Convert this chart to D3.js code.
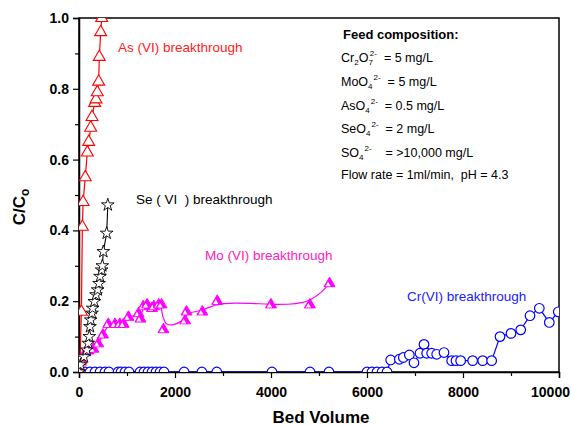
<!DOCTYPE html>
<html><head><meta charset="utf-8">
<script src="https://cdn.jsdelivr.net/npm/d3@7"></script>
<style>body{margin:0;background:#fff}svg{display:block;font-family:"Liberation Sans",Arial,sans-serif}</style>
</head><body><svg id="c" width="571" height="426"></svg>
<script>
// Data: [bed volume, C/Co]
const asData = [[0,0],[20,0.03],[50,0.17],[70,0.41],[85,0.48],[131,0.55],[173,0.62],[202,0.65],[244,0.69],[271,0.72],[327,0.76],[354,0.77],[381,0.79],[410,0.82],[423,0.89],[452,0.96],[473,1.0]];
const seData = [[0,0],[30,0.02],[104,0.043],[160,0.062],[194,0.081],[215,0.1],[229,0.128],[244,0.147],[271,0.166],[285,0.18],[319,0.199],[354,0.218],[389,0.232],[417,0.25],[438,0.27],[472,0.288],[486,0.30],[507,0.34],[577,0.392],[600,0.472]];
const moData = [[20,0.01],[60,0.035],[130,0.055],[200,0.06],[300,0.065],[400,0.08],[500,0.105],[610,0.135],[750,0.135],[850,0.135],[930,0.135],[1030,0.155],[1240,0.165],[1280,0.15],[1340,0.185],[1420,0.19],[1520,0.18],[1560,0.185],[1660,0.19],[1720,0.19],[1760,0.12],[2210,0.145],[2240,0.17],[2570,0.17],[2880,0.2],[4000,0.19],[4810,0.19],[5220,0.25]];
const crData = [[125,0],[229,0],[333,0],[438,0],[542,0],[625,0],[813,0],[875,0],[958,0],[1042,0],[1271,0],[1354,0],[1438,0],[1521,0],[1604,0],[1688,0],[1771,0],[2190,0],[2560,0],[2870,0],[4020,0],[4813,0],[5208,0],[6000,0],[6104,0],[6208,0],[6313,0],[6417,0],
 [6493,0.034],[6674,0.036],[6757,0.041],[6882,0.048],[6979,0.026],[7104,0.053],[7188,0.078],[7243,0.053],[7347,0.053],[7452,0.05],[7604,0.055],[7764,0.032],[7854,0.032],[7951,0.032],[8201,0.032],[8410,0.032],[8597,0.032],[8771,0.1],[9000,0.109],[9202,0.119],[9396,0.159],[9590,0.18],[9798,0.14],[9985,0.17]];
const xTicks = [0,2000,4000,6000,8000,10000];
const yTicks = [0.0,0.2,0.4,0.6,0.8,1.0];
const feedLines = [
 {base:"Cr", sub1:"2", mid:"O", sub:"7", sup:"2-", rest:"  = 5 mg/L"},
 {base:"MoO", sub:"4", sup:"2-", rest:"  = 5 mg/L"},
 {base:"AsO", sub:"4", sup:"2-", rest:"  = 0.5 mg/L"},
 {base:"SeO", sub:"4", sup:"2-", rest:"  = 2 mg/L"},
 {base:"SO", sub:"4", sup:"2-", rest:"    = >10,000 mg/L"}
];

const svg = d3.select("#c");
const L=79,R=559,T=18,B=372;
const x = d3.scaleLinear().domain([0,10000]).range([L,R]);
const y = d3.scaleLinear().domain([0,1]).range([B,T]);

svg.append("defs").append("clipPath").attr("id","clip").append("rect")
 .attr("x",L).attr("y",T).attr("width",R-L).attr("height",B-T);

// frame
svg.append("rect").attr("x",L).attr("y",T).attr("width",R-L).attr("height",B-T)
 .attr("fill","none").attr("stroke","#000").attr("stroke-width",1.5);

// axes
svg.append("g").attr("transform",`translate(0,${B})`)
 .call(d3.axisBottom(x).tickValues(xTicks).tickFormat(d3.format("d")).tickSize(6).tickPadding(9))
 .call(g=>g.selectAll(".tick text").filter(d=>d===10000).attr("dx",-9));
svg.append("g").attr("transform",`translate(0,${B})`)
 .call(d3.axisBottom(x).tickValues(d3.range(1000,10000,2000)).tickFormat("").tickSize(4))
 .call(g=>g.select(".domain").remove());
svg.append("g").attr("transform",`translate(${L},0)`)
 .call(d3.axisLeft(y).tickValues(yTicks).tickFormat(d3.format(".1f")).tickSize(6).tickPadding(4));
svg.append("g").attr("transform",`translate(${L},0)`)
 .call(d3.axisLeft(y).tickValues([0.1,0.3,0.5,0.7,0.9]).tickFormat("").tickSize(4))
 .call(g=>g.select(".domain").remove());
svg.selectAll(".domain").attr("stroke","#000").attr("stroke-width",1.5);
svg.selectAll(".tick line").attr("stroke","#000").attr("stroke-width",1.2);
svg.selectAll(".tick text").attr("font-family","Liberation Sans, Arial, sans-serif")
 .attr("font-size",14).attr("font-weight","bold").attr("fill","#000");

// axis titles
svg.append("text").attr("x",(L+R)/2+2).attr("y",423).attr("text-anchor","middle")
 .attr("font-size",17).attr("font-weight","bold").text("Bed Volume");
const yt = svg.append("text").attr("transform","translate(25,207) rotate(-90)")
 .attr("text-anchor","middle").attr("font-size",17).attr("font-weight","bold");
yt.append("tspan").text("C/C");
yt.append("tspan").attr("font-size",12).attr("dy",4).text("o");

const plot = svg.append("g").attr("clip-path","url(#clip)");
const line = d3.line().x(d=>x(d[0])).y(d=>y(d[1]));

// Cr
plot.append("path").datum(crData).attr("d",line).attr("fill","none").attr("stroke","#0000ff").attr("stroke-width",1.2);
plot.selectAll(".cr").data(crData).join("circle").attr("cx",d=>x(d[0])).attr("cy",d=>y(d[1])).attr("r",4.8)
 .attr("fill","#fff").attr("stroke","#0000ff").attr("stroke-width",1.2);

// Mo
plot.append("path").datum(moData).attr("d",d3.line().curve(d3.curveBasis).x(d=>x(d[0])).y(d=>y(d[1])))
 .attr("fill","none").attr("stroke","#ff00ff").attr("stroke-width",1.2);
const tri = d3.symbol().type(d3.symbolTriangle).size(52)();
const triS = d3.symbol().type(d3.symbolTriangle).size(12)();
const mo = plot.selectAll(".mo").data(moData).join("g").attr("transform",d=>`translate(${x(d[0])},${y(d[1])})`);
mo.append("path").attr("d",tri).attr("fill","#ff00ff").attr("stroke","#ff00ff").attr("stroke-width",1);
mo.append("path").attr("d",triS).attr("transform","translate(-1.5,1.2)").attr("fill","#fff");

// As
plot.append("path").datum(asData).attr("d",line).attr("fill","none").attr("stroke","#ff0000").attr("stroke-width",1.2);
plot.selectAll(".as").data(asData).join("path").attr("d",d3.symbol().type(d3.symbolTriangle).size(62)())
 .attr("transform",d=>`translate(${x(d[0])},${y(d[1])})`).attr("fill","#fff").attr("stroke","#ff0000").attr("stroke-width",1.1);

// Se
plot.append("path").datum(seData).attr("d",line).attr("fill","none").attr("stroke","#000").attr("stroke-width",1.1);
plot.selectAll(".se").data(seData).join("path").attr("d",d3.symbol().type(d3.symbolStar).size(50)())
 .attr("transform",d=>`translate(${x(d[0])},${y(d[1])})`).attr("fill","#fff").attr("stroke","#000").attr("stroke-width",0.9);

// series labels
svg.append("text").attr("x",118).attr("y",52).attr("font-size",13.5).attr("fill","#ff2020").text("As (VI) breakthrough");
svg.append("text").attr("x",136).attr("y",204).attr("font-size",13.5).attr("fill","#000").attr("xml:space","preserve").text("Se ( VI  ) breakthrough");
svg.append("text").attr("x",205).attr("y",260).attr("font-size",13.5).attr("fill","#ff20c0").text("Mo (VI) breakthrough");
svg.append("text").attr("x",407).attr("y",301).attr("font-size",13.5).attr("fill","#2020ff").text("Cr(VI) breakthrough");

// feed composition
const fx = 341;
svg.append("text").attr("x",fx+2).attr("y",39).attr("font-size",13).attr("font-weight","bold").text("Feed composition:");
const fy = [62,86,110,133,157];
feedLines.forEach((f,i)=>{
  const t = svg.append("text").attr("x",fx).attr("y",fy[i]).attr("font-size",12.5).attr("xml:space","preserve");
  t.append("tspan").text(f.base);
  if(f.sub1){ t.append("tspan").attr("font-size",8).attr("dy",3).text(f.sub1);
              t.append("tspan").attr("dy",-3).text(f.mid); }
  t.append("tspan").attr("font-size",8).attr("dy",3).text(f.sub);
  t.append("tspan").attr("font-size",8).attr("dx",f.sub1?-3:1).attr("dy",-9).text(f.sup);
  t.append("tspan").attr("dy",6).text(f.rest);
});
svg.append("text").attr("x",fx).attr("y",179).attr("font-size",12.5).attr("xml:space","preserve").text("Flow rate = 1ml/min,  pH = 4.3");
</script></body></html>
